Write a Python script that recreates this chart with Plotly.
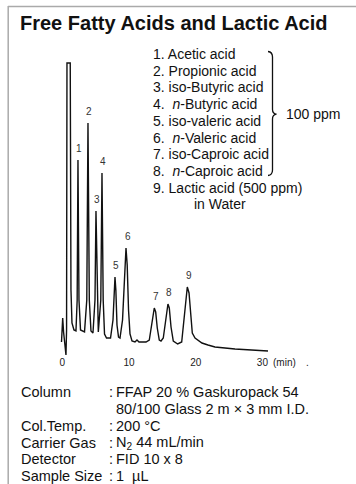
import plotly.graph_objects as go

# ---------------- data ----------------
# chromatogram trace: retention time (min) and detector signal (arbitrary units)
time_min = [-0.12, -0.04, 0.06, 0.19, 0.33, 0.55, 0.64, 0.70, 1.19, 1.30,
            1.45, 1.75, 2.05, 2.23, 2.35, 2.50, 2.73, 3.33, 3.67, 3.85,
            4.05, 4.30, 4.60, 4.90, 5.05, 5.23, 5.40, 5.77, 5.95, 6.13,
            6.33, 6.63, 7.23, 7.60, 7.80, 7.90, 8.03, 8.20, 8.43, 8.65,
            9.03, 9.33, 9.55, 9.73, 9.93, 10.15, 10.45, 10.90, 11.20, 11.50,
            12.55, 13.04, 13.40, 13.64, 13.79, 14.00, 14.24, 14.54, 14.80, 15.14,
            15.50, 15.74, 15.84, 16.04, 16.30, 16.64, 17.30, 17.90, 18.29, 18.55,
            18.74, 19.00, 19.25, 19.49, 19.90, 20.94, 21.84, 22.89, 25.89, 30.84]
signal = [10, 22, 34, 20, 12, -3, 22, 289, 289, 62,
          29, 22, 21, 52, 192, 52, 22, 20, 52, 229,
          52, 21, 19, 52, 141, 52, 20, 52, 179, 52,
          18, 14, 14, 32, 62, 75, 62, 27, 15, 14,
          32, 77, 104, 87, 42, 18, 11, 10, 12, 10,
          10, 12, 29, 42, 44, 40, 24, 12, 11, 14,
          32, 45, 48, 44, 25, 11, 8, 10, 39, 59,
          65, 59, 35, 19, 14, 9, 7, 5, 3, 1]

peak_ids = ["1", "2", "3", "4", "5", "6", "7", "8", "9"]
peak_times = [2.35, 3.85, 5.05, 5.95, 7.90, 9.55, 13.79, 15.84, 18.74]
peak_heights = [192, 229, 141, 179, 75, 104, 44, 48, 65]

compound_names = ["1. Acetic acid", "2. Propionic acid", "3. iso-Butyric acid",
                  "4.\u00a0 <i>n</i>-Butyric acid", "5. iso-valeric acid",
                  "6.\u00a0 <i>n</i>-Valeric acid", "7. iso-Caproic acid",
                  "8.\u00a0 <i>n</i>-Caproic acid", "9. Lactic acid (500 ppm)"]
sample_note = "in Water"
group_conc = "100 ppm"

x_tick_vals = [0, 10, 20, 30]
x_tick_text = ["0", "10", "20", "30"]
x_unit = "(min)"

title_text = "Free Fatty Acids and Lactic Acid"
cond_labels = ["Column", "", "Col.Temp.", "Carrier Gas", "Detector", "Sample Size"]
cond_values = ["FFAP 20 % Gaskuropack 54", "80/100 Glass 2 m \u00d7 3 mm I.D.",
               "200 \u00b0C", "N<sub>2</sub> 44 mL/min", "FID 10 x 8", "1\u00a0 \u00b5L"]

# ---------------- layout geometry ----------------
FW, FH = 356, 484
L, R, T, B = 50, 56, 55, 127
PW, PH = FW - L - R, FH - T - B
BOT = FH - B
FONT = "Liberation Sans, Arial, Helvetica, sans-serif"
INK = "#111111"


def pxx(x):
    return (x - L) / PW


def pxy(y):
    return (BOT - y) / PH


fig = go.Figure()
fig.add_trace(go.Scatter(x=time_min, y=signal, mode="lines",
                         line=dict(color=INK, width=1.4), hoverinfo="skip",
                         showlegend=False))

ann = []
# peak numbers
for pid, pt, ph in zip(peak_ids, peak_times, peak_heights):
    ann.append(dict(x=pt, y=ph, xref="x", yref="y", text=pid, showarrow=False,
                    xanchor="center", yanchor="bottom", xshift=1.5, yshift=4,
                    font=dict(size=10, color="#333333")))

# title
ann.append(dict(x=pxx(18), y=pxy(23), xref="paper", yref="paper", text=title_text,
                showarrow=False, xanchor="left", yanchor="middle",
                font=dict(size=20, color=INK, family=FONT, weight="bold")))

# compound list
for i, name in enumerate(compound_names):
    ann.append(dict(x=pxx(151), y=pxy(54 + i * 16.7), xref="paper", yref="paper",
                    text=name, showarrow=False, xanchor="left", yanchor="middle",
                    font=dict(size=14, color=INK)))
ann.append(dict(x=pxx(191.5), y=pxy(54 + 9 * 16.7), xref="paper", yref="paper",
                text=sample_note, showarrow=False, xanchor="left", yanchor="middle",
                font=dict(size=14, color=INK)))
ann.append(dict(x=pxx(284), y=pxy(114.5), xref="paper", yref="paper",
                text=group_conc, showarrow=False, xanchor="left", yanchor="middle",
                font=dict(size=14, color=INK)))

# axis unit
ann.append(dict(x=pxx(271), y=pxy(362), xref="paper", yref="paper", text=x_unit,
                showarrow=False, xanchor="left", yanchor="middle",
                font=dict(size=10, color="#222222")))
ann.append(dict(x=pxx(307), y=pxy(362.5), xref="paper", yref="paper", text=".",
                showarrow=False, xanchor="center", yanchor="middle",
                font=dict(size=10, color="#222222")))

# conditions
rows_y = [391.7, 408.5, 426.0, 442.7, 459.3, 476.0]
for lab, val, yy in zip(cond_labels, cond_values, rows_y):
    if lab:
        ann.append(dict(x=pxx(18.5), y=pxy(yy), xref="paper", yref="paper", text=lab,
                        showarrow=False, xanchor="left", yanchor="middle",
                        font=dict(size=14.5, color=INK)))
        ann.append(dict(x=pxx(106.5), y=pxy(yy), xref="paper", yref="paper", text=":",
                        showarrow=False, xanchor="left", yanchor="middle",
                        font=dict(size=14.5, color=INK)))
    ann.append(dict(x=pxx(113.5), y=pxy(yy), xref="paper", yref="paper", text=val,
                    showarrow=False, xanchor="left", yanchor="middle",
                    font=dict(size=14.5, color=INK)))


def P(x, y):
    return f"{pxx(x):.5f},{pxy(y):.5f}"


brace = ("M " + P(268, 51.5) + " Q " + P(272.5, 52) + " " + P(272.5, 57) +
         " L " + P(272.5, 109.5) + " Q " + P(272.5, 113.7) + " " + P(276.5, 114.2) +
         " Q " + P(272.5, 114.7) + " " + P(272.5, 119) +
         " L " + P(272.5, 170) + " Q " + P(272.5, 175) + " " + P(268, 175.5))

shapes = [
    dict(type="path", xref="paper", yref="paper", path=brace,
         line=dict(color=INK, width=1.3)),
    dict(type="line", xref="paper", yref="paper", x0=pxx(8), x1=pxx(356),
         y0=pxy(6.5), y1=pxy(6.5), line=dict(color="#aaaaaa", width=1.5)),
    dict(type="line", xref="paper", yref="paper", x0=pxx(8.2), x1=pxx(8.2),
         y0=pxy(6), y1=pxy(484), line=dict(color="#aaaaaa", width=1.5)),
]

x0 = (L - 62.3) / 6.67
x1 = (L + PW - 62.3) / 6.67
fig.update_layout(
    width=FW, height=FH,
    margin=dict(l=L, r=R, t=T, b=B, pad=0),
    paper_bgcolor="white", plot_bgcolor="white",
    font=dict(family=FONT, color=INK),
    showlegend=False,
    annotations=ann, shapes=shapes,
    xaxis=dict(range=[x0, x1], tickvals=x_tick_vals, ticktext=x_tick_text,
               showgrid=False, zeroline=False, showline=False, ticks="",
               ticklabelstandoff=-2,
               tickfont=dict(size=10, color="#222222"), fixedrange=True),
    yaxis=dict(range=[352 - BOT, 352 - T], visible=False, showgrid=False,
               zeroline=False, fixedrange=True),
)

fig.write_html("out.html", config={"displayModeBar": False},
               post_script="document.body.style.margin='0';"
                           "document.body.style.overflow='hidden';")
